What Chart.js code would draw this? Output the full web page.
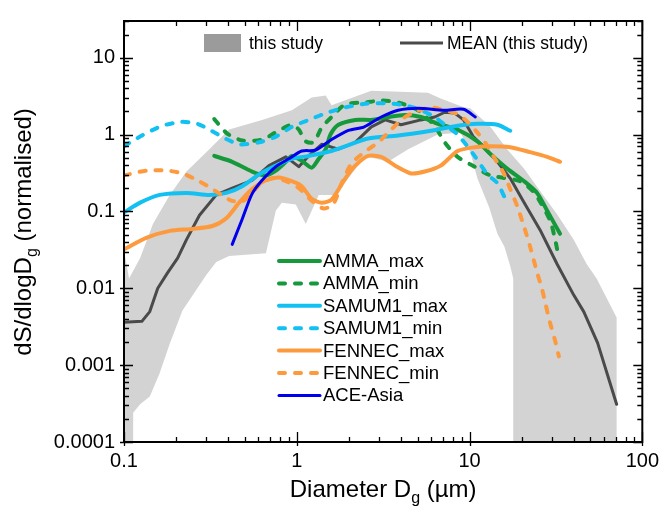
<!DOCTYPE html>
<html>
<head>
<meta charset="utf-8">
<script src="https://cdn.jsdelivr.net/npm/chart.js@4.4.1/dist/chart.umd.min.js"></script>
<style>
  html, body { margin: 0; padding: 0; background: #fff; }
  #wrap { width: 666px; height: 513px; position: relative; }
</style>
</head>
<body>
<div id="wrap"><canvas id="chart"></canvas></div>
<script>
// x = diameter (µm), y = dS/dlogDg (normalised)
const xTicks = [0.1, 1, 10, 100];
const yTicks = [0.0001, 0.001, 0.01, 0.1, 1, 10];

const bandUpper = [[0.1,0.031],[0.107,0.0134],[0.124,0.0247],[0.147,0.0685],[0.184,0.164],[0.23,0.33],[0.312,0.645],[0.406,1.16],[0.63,1.55],[0.936,2.07],[1.22,3.03],[1.47,3.21],[1.59,2.4],[2.7,3.72],[5.74,3.5],[6.81,2.94],[9.24,2.26],[10.1,2.2],[13.2,1.26],[16.5,0.645],[20.7,0.36],[25.6,0.184],[32.1,0.0916],[40.1,0.0429],[47.6,0.0207],[54.4,0.0134],[71,0.00417],[71,0.00005]];
const bandLower = [[17.9,0.00005],[17.9,0.0134],[17.2,0.0195],[15.9,0.035],[14.5,0.0511],[13,0.112],[11.1,0.269],[10.1,0.59],[8.87,1.06],[6.55,1.0],[4.41,0.645],[3.38,0.442],[2.49,0.527],[1.99,0.269],[1.68,0.164],[1.34,0.164],[1.127,0.0685],[0.987,0.123],[0.82,0.13],[0.757,0.103],[0.663,0.0286],[0.406,0.0262],[0.342,0.022],[0.3,0.015],[0.218,0.00512],[0.184,0.0019],[0.161,0.00079],[0.141,0.00039],[0.124,0.00031],[0.113,0.00024],[0.113,0.00005],[0.1,0.00005]];

const meanStudy = [[0.1,0.0036],[0.1269,0.00371],[0.141,0.00497],[0.1568,0.01],[0.179,0.016],[0.2043,0.0247],[0.23,0.0429],[0.2734,0.089],[0.342,0.164],[0.423,0.201],[0.551,0.254],[0.69,0.394],[0.865,0.512],[1.027,0.382],[1.172,0.527],[1.393,0.747],[1.743,0.645],[2.18,0.792],[2.7,1.26],[3.25,1.55],[4.01,1.34],[5.23,1.55],[6.29,1.69],[7.18,1.95],[8.2,1.9],[9.24,1.55],[10.5,0.94],[12.0,0.705],[14.5,0.442],[17.2,0.269],[20.4,0.138],[25.6,0.0574],[32.1,0.0207],[40.1,0.00815],[45.8,0.00497],[55.1,0.00195],[71,0.00031]];

const ammaMax = [[0.333,0.527],[0.423,0.442],[0.551,0.33],[0.663,0.294],[0.757,0.34],[0.865,0.442],[0.936,0.527],[1.068,0.455],[1.22,0.371],[1.34,0.483],[1.47,0.645],[1.567,1.0],[1.743,1.34],[2.18,1.55],[2.7,1.55],[3.38,1.69],[4.23,1.79],[5.23,1.69],[6.55,1.38],[8.53,1.16],[11.1,0.815],[13.2,0.558],[16.5,0.36],[20.7,0.247],[24.6,0.174],[28.1,0.103],[33.4,0.0511]];
const ammaMin = [[0.333,1.59],[0.396,1.03],[0.483,0.839],[0.63,0.86],[0.788,1.13],[0.936,1.34],[1.027,1.16],[1.127,0.815],[1.253,0.792],[1.393,1.23],[1.59,1.69],[1.91,2.47],[2.49,2.61],[3.08,2.77],[3.86,2.61],[5.03,2.07],[6.29,1.29],[7.18,0.792],[8.53,0.512],[10.7,0.382],[13.2,0.294],[19.6,0.247],[23.7,0.174],[29.2,0.0769],[31.2,0.0443],[32.9,0.0247]];
const samumMax = [[0.1,0.0971],[0.124,0.13],[0.161,0.164],[0.23,0.174],[0.312,0.164],[0.391,0.174],[0.483,0.213],[0.605,0.303],[0.757,0.394],[0.936,0.483],[1.172,0.527],[1.59,0.61],[1.99,0.726],[2.59,0.889],[3.86,0.971],[5.97,1.12],[8.53,1.3],[11.1,1.38],[14.5,1.34],[17.2,1.12]];
const samumMin = [[0.1,0.705],[0.127,0.971],[0.165,1.29],[0.215,1.46],[0.266,1.38],[0.32,1.12],[0.386,0.889],[0.464,0.747],[0.605,0.792],[0.757,0.94],[0.936,1.26],[1.172,1.55],[1.53,1.95],[1.91,2.26],[2.59,2.54],[3.38,2.54],[4.23,2.4],[5.23,2.07],[6.29,1.69],[7.18,1.34],[8.53,1.0],[10.5,0.558],[12.7,0.303],[14.5,0.233],[15.9,0.155]];
const fennecMax = [[0.1,0.0321],[0.1356,0.0455],[0.184,0.0558],[0.249,0.0592],[0.325,0.0646],[0.391,0.0815],[0.464,0.13],[0.551,0.195],[0.663,0.254],[0.788,0.277],[0.936,0.247],[1.068,0.213],[1.22,0.146],[1.393,0.13],[1.59,0.142],[1.91,0.269],[2.18,0.394],[2.59,0.527],[3.08,0.512],[3.71,0.394],[4.58,0.312],[5.51,0.33],[6.81,0.394],[8.53,0.61],[10.7,0.684],[13.2,0.705],[17.2,0.684],[22.4,0.59],[28.1,0.512],[33.4,0.442]];
const fennecMin = [[0.1,0.294],[0.1356,0.34],[0.1766,0.34],[0.218,0.312],[0.266,0.254],[0.312,0.207],[0.366,0.164],[0.418,0.138],[0.483,0.134],[0.551,0.174],[0.621,0.233],[0.718,0.269],[0.842,0.254],[1.027,0.201],[1.22,0.138],[1.43,0.109],[1.63,0.126],[1.81,0.226],[2.07,0.417],[2.46,0.59],[2.96,0.792],[3.47,1.12],[4.07,1.59],[4.77,1.95],[5.97,2.26],[7.09,2.07],[8.53,1.85],[9.74,1.46],[11.1,1.06],[12.4,0.77],[13.7,0.527],[15.7,0.321],[17.2,0.195],[18.9,0.116],[20.7,0.0627],[22.4,0.035],[24.6,0.016],[26.3,0.0097],[27.7,0.0059],[29.2,0.0036],[31.2,0.00213],[32.9,0.0013]];
const aceAsia = [[0.423,0.0372],[0.483,0.0792],[0.551,0.169],[0.63,0.254],[0.757,0.382],[0.9,0.483],[1.068,0.61],[1.285,0.627],[1.59,0.86],[1.99,1.13],[2.46,1.26],[3.08,1.69],[3.86,2.07],[5.03,2.2],[7.09,2.07],[9.24,2.13],[10.8,1.69]];

const GREEN = '#15993b', CYAN = '#12c0f2', ORANGE = '#fd9a3e', BLUE = '#0000ee', MEAN = '#4a4a4a';
const FONT = "'Liberation Sans', Arial, Helvetica, sans-serif";
const DASH = [6, 10];

const toPts = arr => arr.map(p => ({ x: p[0], y: p[1] }));

function series(label, data, color, dashed, width, order) {
    return {
        label: label,
        data: toPts(data),
        borderColor: color,
        borderWidth: width,
        borderDash: dashed ? DASH : [],
        borderCapStyle: 'round',
        borderJoinStyle: 'round',
        pointRadius: 0,
        tension: 0.25,
        fill: false,
        order: order
    };
}

const legendItems = [
    ['AMMA_max', GREEN, false],
    ['AMMA_min', GREEN, true],
    ['SAMUM1_max', CYAN, false],
    ['SAMUM1_min', CYAN, true],
    ['FENNEC_max', ORANGE, false],
    ['FENNEC_min', ORANGE, true],
    ['ACE-Asia', BLUE, false]
];

// axis frame and inward log ticks
const frameTicks = {
    id: 'frameTicks',
    afterDatasetsDraw(chart) {
        const { ctx, chartArea: a, scales: { x, y } } = chart;
        ctx.save();
        ctx.strokeStyle = '#000';
        ctx.lineWidth = 1.3;
        ctx.beginPath();
        for (let k = -4; k <= 1; k++) {
            for (let m = 1; m <= 9; m++) {
                const v = m * Math.pow(10, k);
                if (v > y.max) break;
                const py = Math.round(y.getPixelForValue(v)) + 0.5;
                const len = m === 1 ? 9 : 5;
                ctx.moveTo(a.left - (m === 1 ? 4 : 0), py);
                ctx.lineTo(a.left + len, py);
                ctx.moveTo(a.right - len, py);
                ctx.lineTo(a.right, py);
            }
        }
        for (let k = -1; k <= 2; k++) {
            for (let m = 1; m <= 9; m++) {
                const v = m * Math.pow(10, k);
                if (v > x.max + 1e-9) break;
                const px = Math.round(x.getPixelForValue(v)) + 0.5;
                const len = m === 1 ? 10 : 5;
                ctx.moveTo(px, a.bottom + (m === 1 ? 4 : 0));
                ctx.lineTo(px, a.bottom - len);
                ctx.moveTo(px, a.top);
                ctx.lineTo(px, a.top + len);
            }
        }
        ctx.stroke();
        ctx.lineWidth = 2;
        ctx.strokeRect(a.left, a.top, a.right - a.left, a.bottom - a.top);
        ctx.restore();
    },
    afterDraw(chart) {
        const { ctx, chartArea: a } = chart;
        ctx.save();
        ctx.fillStyle = '#000';
        ctx.textBaseline = 'alphabetic';

        // x title with subscript
        const big = '24px ' + FONT, small = '16px ' + FONT;
        ctx.font = big;
        const t1 = 'Diameter D', t3 = ' (µm)';
        const w1 = ctx.measureText(t1).width, w3 = ctx.measureText(t3).width;
        ctx.font = small;
        const w2 = ctx.measureText('g').width;
        let sx = (a.left + a.right) / 2 - (w1 + w2 + w3) / 2;
        const by = 497;
        ctx.textAlign = 'left';
        ctx.font = big; ctx.fillText(t1, sx, by);
        ctx.font = small; ctx.fillText('g', sx + w1, by + 6);
        ctx.font = big; ctx.fillText(t3, sx + w1 + w2, by);

        // y title, rotated
        ctx.save();
        ctx.translate(31, 232);
        ctx.rotate(-Math.PI / 2);
        const u1 = 'dS/dlogD', u3 = ' (normalised)';
        ctx.font = big;
        const v1 = ctx.measureText(u1).width, v3 = ctx.measureText(u3).width;
        ctx.font = small;
        const v2 = ctx.measureText('g').width;
        let ux = -(v1 + v2 + v3) / 2;
        ctx.font = big; ctx.fillText(u1, ux, 0);
        ctx.font = small; ctx.fillText('g', ux + v1, 6);
        ctx.font = big; ctx.fillText(u3, ux + v1 + v2, 0);
        ctx.restore();

        // top legend
        ctx.font = '17.5px ' + FONT;
        ctx.textBaseline = 'middle';
        ctx.fillStyle = '#9b9b9b';
        ctx.fillRect(204, 34, 37, 18);
        ctx.fillStyle = '#000';
        ctx.fillText('this study', 249, 44);
        ctx.strokeStyle = MEAN;
        ctx.lineWidth = 3;
        ctx.beginPath(); ctx.moveTo(400, 43); ctx.lineTo(443, 43); ctx.stroke();
        ctx.fillText('MEAN (this study)', 447, 44);

        // series legend
        ctx.font = '18.5px ' + FONT;
        legendItems.forEach((it, i) => {
            const ly = 261 + i * 22.4;
            ctx.strokeStyle = it[1];
            ctx.lineWidth = it[1] === BLUE ? 3 : 4;
            ctx.lineCap = 'round';
            ctx.setLineDash(it[2] ? DASH : []);
            ctx.beginPath(); ctx.moveTo(279, ly); ctx.lineTo(320, ly); ctx.stroke();
            ctx.setLineDash([]);
            ctx.fillStyle = '#000';
            ctx.fillText(it[0], 323, ly + 1);
        });
        ctx.restore();
    }
};

const ctx = document.getElementById('chart').getContext('2d');
new Chart(ctx, {
    type: 'line',
    data: {
        datasets: [
            {
                label: 'this study',
                data: toPts(bandUpper.concat(bandLower)),
                borderWidth: 0,
                borderColor: 'rgba(0,0,0,0)',
                backgroundColor: '#d3d3d3',
                pointRadius: 0,
                tension: 0,
                fill: 'shape',
                order: 20
            },
            Object.assign(series('MEAN (this study)', meanStudy, MEAN, false, 3, 10), { tension: 0 }),
            series('AMMA_max', ammaMax, GREEN, false, 4, 7),
            series('AMMA_min', ammaMin, GREEN, true, 4, 6),
            series('SAMUM1_max', samumMax, CYAN, false, 4, 5),
            series('SAMUM1_min', samumMin, CYAN, true, 4, 4),
            series('FENNEC_max', fennecMax, ORANGE, false, 4, 3),
            series('FENNEC_min', fennecMin, ORANGE, true, 4, 2),
            series('ACE-Asia', aceAsia, BLUE, false, 3, 1)
        ]
    },
    options: {
        responsive: true,
        maintainAspectRatio: false,
        animation: false,
        events: [],
        layout: { padding: { top: 7, right: 20, left: 0, bottom: 0 } },
        plugins: { legend: { display: false }, tooltip: { enabled: false } },
        scales: {
            x: {
                type: 'logarithmic',
                min: 0.1,
                max: 100,
                afterBuildTicks: s => { s.ticks = xTicks.map(v => ({ value: v })); },
                afterFit: s => { s.height = 71; },
                grid: { display: false, drawTicks: false },
                border: { display: false },
                ticks: {
                    autoSkip: false,
                    maxRotation: 0,
                    padding: 7,
                    color: '#000',
                    font: { size: 20, family: FONT },
                    callback: v => String(v)
                }
            },
            y: {
                type: 'logarithmic',
                min: 0.0001,
                max: 30,
                afterBuildTicks: s => { s.ticks = yTicks.map(v => ({ value: v })); },
                afterFit: s => { s.width = 124; },
                grid: { display: false, drawTicks: false },
                border: { display: false },
                ticks: {
                    autoSkip: false,
                    padding: 9,
                    color: '#000',
                    font: { size: 20, family: FONT },
                    callback: v => String(v)
                }
            }
        }
    },
    plugins: [frameTicks]
});
</script>
</body>
</html>
